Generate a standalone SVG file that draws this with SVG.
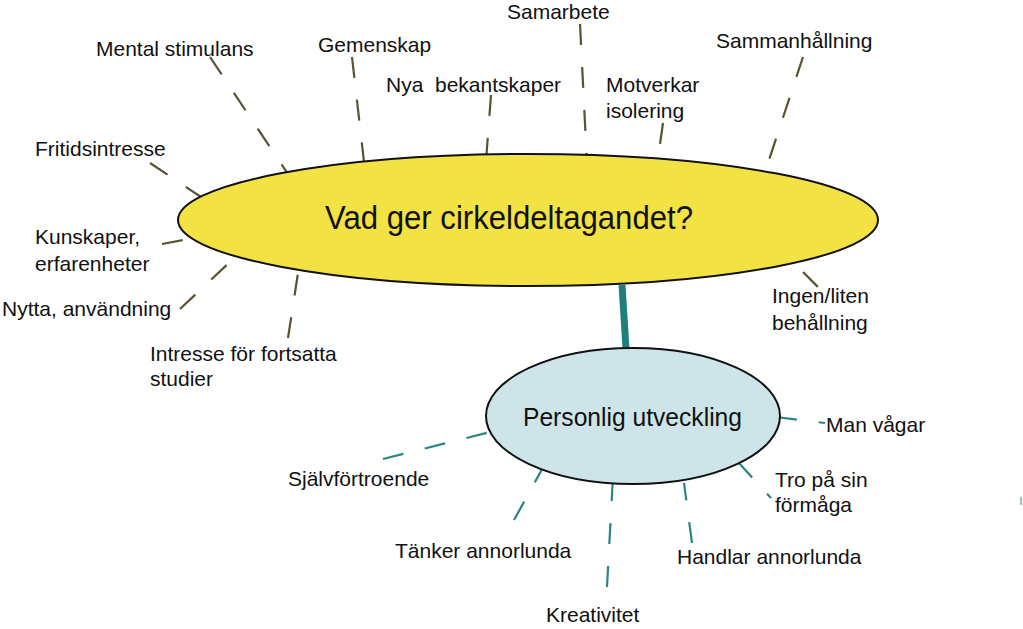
<svg xmlns="http://www.w3.org/2000/svg" width="1023" height="629" viewBox="0 0 1023 629">
<style>
.lbl{font-family:"Liberation Sans",Arial,sans-serif;font-size:21px;fill:#111}
.d1{stroke:#5a5232;stroke-width:2.2;stroke-dasharray:21 22;fill:none}
.d2{stroke:#2a8680;stroke-width:2.2;stroke-dasharray:21 22;fill:none}
</style>
<rect width="1023" height="629" fill="#fff"/>
<g id="connectors">
<line class="d1" x1="210" y1="57" x2="288" y2="174"/>
<line class="d1" x1="150" y1="163" x2="207" y2="201"/>
<line class="d1" x1="352" y1="57" x2="364" y2="162"/>
<line class="d1" x1="491" y1="95" x2="486" y2="161"/>
<line class="d1" x1="580" y1="24" x2="587" y2="163"/>
<line class="d1" x1="663" y1="123" x2="660" y2="144"/>
<line class="d1" x1="803" y1="57" x2="768" y2="163"/>
<line class="d1" x1="162" y1="244" x2="183" y2="240"/>
<line class="d1" x1="180" y1="309" x2="250" y2="243"/>
<line class="d1" x1="288" y1="338" x2="298" y2="273"/>
<line class="d1" x1="803" y1="272" x2="818" y2="287"/>
<line x1="622" y1="285" x2="626" y2="349" stroke="#1e7f7b" stroke-width="7"/>
<line class="d2" x1="383" y1="459" x2="490" y2="432"/>
<line class="d2" x1="514" y1="520" x2="546" y2="462"/>
<line class="d2" x1="607" y1="587" x2="613" y2="476"/>
<line class="d2" x1="692" y1="543" x2="684" y2="483"/>
<line class="d2" x1="738" y1="462" x2="771" y2="498"/>
<line class="d2" x1="776" y1="417" x2="825" y2="423"/>
<line x1="1021" y1="497" x2="1021" y2="505" stroke="#8aa8a8" stroke-width="1.5"/>
</g>
<g id="main">
<ellipse cx="528" cy="220" rx="350" ry="66" fill="#f3e244" stroke="#111" stroke-width="2"/>
<text x="325" y="229" font-family="'Liberation Sans',Arial,sans-serif" font-size="34" fill="#111" textLength="368" lengthAdjust="spacingAndGlyphs">Vad ger cirkeldeltagandet?</text>
</g>
<g id="personlig">
<ellipse cx="633" cy="416" rx="147" ry="68" fill="#cde5e8" stroke="#111" stroke-width="2"/>
<text x="523" y="426" font-family="'Liberation Sans',Arial,sans-serif" font-size="26" fill="#111" textLength="219" lengthAdjust="spacingAndGlyphs">Personlig utveckling</text>
</g>
<g id="mental"><text class="lbl" x="96" y="56">Mental stimulans</text></g>
<g id="gemenskap"><text class="lbl" x="318" y="52">Gemenskap</text></g>
<g id="samarbete"><text class="lbl" x="507" y="19">Samarbete</text></g>
<g id="nya"><text class="lbl" x="386" y="92" xml:space="preserve">Nya  bekantskaper</text></g>
<g id="motverkar"><text class="lbl" x="606" y="92">Motverkar</text><text class="lbl" x="606" y="118">isolering</text></g>
<g id="sammanhallning"><text class="lbl" x="716" y="48">Sammanhållning</text></g>
<g id="fritid"><text class="lbl" x="35" y="156">Fritidsintresse</text></g>
<g id="kunskaper"><text class="lbl" x="35" y="244">Kunskaper,</text><text class="lbl" x="35" y="271">erfarenheter</text></g>
<g id="nytta"><text class="lbl" x="2" y="316">Nytta, användning</text></g>
<g id="intresse"><text class="lbl" x="150" y="361">Intresse för fortsatta</text><text class="lbl" x="150" y="386">studier</text></g>
<g id="ingen"><text class="lbl" x="772" y="303">Ingen/liten</text><text class="lbl" x="772" y="330">behållning</text></g>
<g id="manvagar"><text class="lbl" x="826" y="432">Man vågar</text></g>
<g id="sjalv"><text class="lbl" x="288" y="486">Självförtroende</text></g>
<g id="tanker"><text class="lbl" x="395" y="558">Tänker annorlunda</text></g>
<g id="kreativitet"><text class="lbl" x="546" y="622">Kreativitet</text></g>
<g id="tro"><text class="lbl" x="775" y="487">Tro på sin</text><text class="lbl" x="775" y="512">förmåga</text></g>
<g id="handlar"><text class="lbl" x="677" y="564">Handlar annorlunda</text></g>
</svg>
